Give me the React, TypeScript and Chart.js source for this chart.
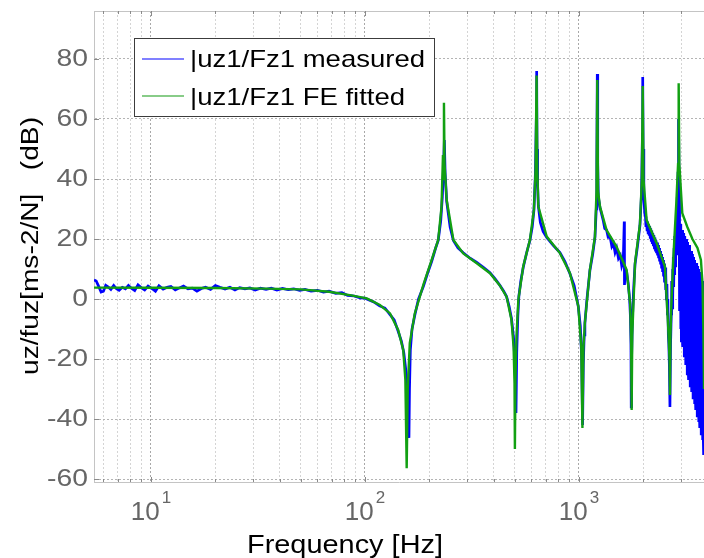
import React, { useEffect, useRef } from 'react';
import { Chart, registerables } from 'chart.js';

Chart.register(...registerables);

// ---------- axis ranges & ticks ----------
const X_MIN = 5.42;
const X_MAX = 3840;
const Y_MIN = -61;
const Y_MAX = 96;
const yTickValues = [-60, -40, -20, 0, 20, 40, 60, 80];
const xGridValues = [6, 7, 8, 9, 10, 20, 30, 40, 50, 60, 70, 80, 90, 100, 200, 300, 400, 500, 600, 700, 800, 900, 1000, 2000, 3000];
const xLabelExponents = [1, 2, 3];
const seriesNames = ['|uz1/Fz1 measured', '|uz1/Fz1 FE fitted'];
const xTitle = 'Frequency [Hz]';
const yTitle = 'uz/fuz[ms-2/N]   (dB)';

// ---------- measured (blue) [Hz, dB] ----------
const measuredLow: [number, number][] = [
  [5.42, 6.3], [5.55, 6.0], [5.7, 4.2], [5.85, 2.3], [6.0, 2.6], [6.15, 4.6], [6.3, 4.1], [6.5, 3.2], [6.7, 4.5],
  [6.9, 3.4], [7.1, 2.9], [7.35, 3.9], [7.6, 3.4], [7.85, 4.5], [8.1, 3.6], [8.4, 2.8], [8.7, 4.7], [9.0, 3.8],
  [9.35, 3.0], [9.7, 4.3], [10.1, 3.5], [10.5, 2.6], [10.9, 4.4], [11.4, 3.3], [11.9, 3.9], [12.4, 4.2], [13.0, 3.0],
  [13.6, 3.7], [14.2, 4.3], [14.9, 3.4], [15.6, 3.6], [16.4, 2.6], [17.2, 3.5], [18.0, 3.9], [19.0, 3.2], [20.0, 4.5],
  [21.0, 3.9], [22.2, 3.3], [23.4, 3.9], [24.7, 3.0], [26.0, 3.8], [27.5, 3.4], [29.0, 3.7], [30.7, 3.0], [32.5, 3.6],
  [34.5, 3.2], [36.5, 3.6], [38.8, 3.0], [41.2, 3.5], [43.8, 3.1], [46.5, 3.4], [49.5, 2.9], [52.5, 3.2], [56, 2.6],
  [60, 2.9], [64, 2.3], [68, 2.6], [73, 1.9], [78, 2.1], [83, 1.2], [89, 1.0], [95, 0.4], [100, 0.3],
];

const measuredMid: [number, number][] = [
  [102, 0.0], [110, -1.0], [117, -2.3], [124, -3.0], [131, -5.2], [137, -7.0], [143, -10.8], [148, -14], [152, -18],
  [156, -25], [158.5, -32], [160.6, -46.3], [161.5, -30], [163, -17], [166, -10], [171, -5.4], [178, 0], [187.6, 4.2],
  [196, 8.5], [205, 12.5], [214, 17], [220, 19.5], [226, 26], [230, 34], [233, 44], [235, 53], [237, 42], [241, 32.5],
  [250, 24], [259, 19.5], [272, 17], [288, 15.4], [310, 13.6], [333, 12.2], [360, 10.4], [384, 8.8], [405, 6.8],
  [427, 4.6], [445, 2.6], [459, 0.8], [472, -2.5], [484, -6.5], [495, -13], [503, -22], [508, -38], [512, -18],
  [518, -6], [524, 1], [535, 6], [549, 10.5], [570, 15.5], [590, 19.5], [605, 24], [616, 29.5], [626, 42], [632, 60],
  [634.5, 76], [637, 50], [641, 38], [646, 31], [660, 25.5], [680, 22.5], [707, 20.5], [760, 17.8], [815, 15.5],
  [860, 12.5], [907, 8.5], [950, 4.5], [993, -2.5], [1015, -9], [1030, -20], [1040, -42], [1048, -22], [1058, -12],
  [1066, -8], [1090, 0], [1125, 9.5], [1160, 15], [1188, 20.5], [1205, 30], [1212, 45], [1218, 75], [1224, 45],
  [1232, 34], [1254, 30.5], [1300, 26], [1320, 23.5], [1346, 23], [1370, 20.5], [1400, 20.5], [1425, 17.5],
  [1450, 18.5], [1475, 15.5], [1500, 17], [1530, 13.5], [1560, 14.5], [1585, 11], [1610, 12.5], [1628, 25.8],
  [1632, 4.7], [1650, 10], [1670, 9.2], [1700, 5], [1725, 0], [1740, -6], [1750, -15], [1755, -36], [1762, -20],
  [1775, -8], [1800, 3], [1828, 11.5], [1880, 18], [1928, 24.5], [1960, 35], [1980, 55], [1986, 74], [1995, 50],
  [2010, 34], [2030, 28.5],
];

const measuredHigh: [number, number][] = [
  [2045, 27.5], [2057, 24], [2069, 26.5], [2081, 23], [2093, 25.8], [2105, 22], [2117, 25], [2129, 21.5], [2141, 24.3],
  [2153, 20.5], [2165, 23.6], [2177, 19.5], [2189, 22.8], [2201, 18.8], [2213, 22], [2226, 18], [2239, 21.3],
  [2252, 17], [2265, 20.5], [2278, 16.3], [2291, 19.6], [2304, 15.3], [2317, 18.8], [2330, 14.5], [2343, 18],
  [2356, 13.6], [2369, 17], [2382, 12.5], [2395, 16], [2408, 11.5], [2421, 15], [2434, 10.2], [2447, 14], [2460, 9],
  [2473, 13], [2486, 7.5], [2499, 11.8], [2512, 5.5], [2525, 10.5], [2538, 3], [2551, 8.5], [2564, 0], [2577, 5],
  [2590, -5], [2603, 0], [2616, -12], [2630, -15], [2645, -22], [2662, -36], [2680, -15], [2700, -5], [2712, 6],
  [2724, -3], [2736, 10], [2748, 0], [2760, 14], [2772, 4], [2784, 17], [2796, 8], [2808, 21], [2820, 11], [2832, 25],
  [2844, 15], [2856, 29], [2868, 19], [2880, 34], [2892, 24], [2904, 42], [2914, 50], [2924, 60], [2935, 40],
  [2944, 30], [2950, 26], [2962, -4], [2974, 25], [2986, -10], [2998, 24], [3010, -14], [3022, 23], [3034, -8],
  [3046, 23], [3058, -16], [3070, 22], [3082, -12], [3094, 22], [3106, -19], [3118, 21], [3130, -15], [3142, 20],
  [3155, -22], [3168, 20], [3181, -18], [3194, 19], [3207, -25], [3220, 19], [3233, -20], [3246, 18], [3259, -27],
  [3272, 18], [3285, -22], [3298, 17], [3311, -29], [3324, 16], [3337, -24], [3350, 16], [3363, -31], [3376, 15],
  [3389, -26], [3402, 15], [3415, -33], [3428, 14], [3441, -28], [3454, 13], [3467, -35], [3480, 13], [3493, -30],
  [3506, 12], [3519, -37], [3532, 12], [3545, -32], [3558, 11], [3571, -39], [3584, 11], [3597, -34], [3610, 10],
  [3623, -41], [3636, 10], [3649, -36], [3662, 9], [3675, -43], [3688, 9], [3701, -38], [3714, 8], [3727, -45],
  [3740, 7], [3753, -40], [3766, 6], [3779, -47], [3792, 5], [3805, -44], [3818, 4], [3831, -52], [3840, -50],
];

// ---------- FE fitted (green) [Hz, dB] ----------
const fitted: [number, number][] = [
  [5.42, 3.8], [10, 3.75], [20, 3.65], [35, 3.45], [50, 3.2], [68, 2.4], [85, 1.3], [102, 0.2], [117.5, -2],
  [131, -4.8], [143, -10.3], [151, -17], [154.5, -27], [156.7, -56.4], [158.5, -30], [162, -14.7], [171, -4.8],
  [187.6, 4.8], [205, 13], [220, 19.7], [228, 30.8], [231.5, 48], [232.5, 40], [234, 65.4], [235.5, 45], [241, 33],
  [259, 19.7], [288, 15.2], [333, 11.9], [384, 8.6], [427, 4.5], [459, 0.8], [484, -7], [495, -16], [500, -28],
  [502, -50], [505, -27], [511, -12], [521, -0.3], [549, 10.8], [590, 19.7], [616, 29.7], [627, 43], [634, 74.5],
  [639, 43], [646, 30.8], [707, 20.8], [815, 15.3], [907, 8.7], [993, -2.4], [1025, -16], [1038, -43], [1050, -16],
  [1066, -8], [1125, 9.7], [1188, 20.8], [1208, 36], [1218, 73], [1228, 36], [1254, 30.8], [1346, 23], [1500, 17.4],
  [1670, 9.7], [1735, -1.6], [1753, -15], [1763, -37], [1775, -12], [1828, 12], [1928, 25], [1968, 40], [1986, 71],
  [2003, 40], [2071, 26.3], [2306, 18.6], [2522, 10.8], [2610, -9], [2650, -20], [2662, -32], [2678, -12],
  [2700, -3], [2762, 14], [2850, 32], [2905, 45], [2924, 71.9], [2945, 45], [3040, 28.6], [3210, 24], [3390, 20],
  [3580, 17], [3715, 13], [3780, 5], [3815, -10], [3840, -30],
];

// ---------- styles ----------
const BLUE = '#0000ff';
const GREEN = '#12a012';
const LEGEND_BLUE = '#8080ff';
const LEGEND_GREEN = '#88cc88';
const FONT = '"Liberation Sans", Arial, Helvetica, sans-serif';

const isMajor = (v: number) => Math.abs(Math.log10(v) - Math.round(Math.log10(v))) < 1e-9;

function drawStretched(
  ctx: CanvasRenderingContext2D, text: string, x: number, y: number,
  font: string, color: string, align: CanvasTextAlign, stretch: number,
  baseline: CanvasTextBaseline = 'alphabetic', rotate = 0,
) {
  ctx.save();
  ctx.font = font;
  ctx.fillStyle = color;
  ctx.textAlign = align;
  ctx.textBaseline = baseline;
  ctx.translate(x, y);
  if (rotate) ctx.rotate(rotate);
  ctx.scale(stretch, 1);
  ctx.fillText(text, 0, 0);
  ctx.restore();
}

const decor = {
  id: 'decor',
  afterDatasetsDraw(chart: any) {
    const { ctx, chartArea: a, scales } = chart;
    const x = scales.x;
    const y = scales.y;
    ctx.save();
    ctx.lineWidth = 1;
    // top frame line
    ctx.strokeStyle = '#c4c4c4';
    ctx.beginPath();
    ctx.moveTo(a.left, Math.round(a.top) + 0.5);
    ctx.lineTo(a.right, Math.round(a.top) + 0.5);
    ctx.stroke();
    // tick marks (inward)
    ctx.strokeStyle = '#8a8a8a';
    ctx.beginPath();
    for (const v of xGridValues) {
      const px = Math.round(x.getPixelForValue(v)) + 0.5;
      const len = isMajor(v) ? 5 : 3;
      ctx.moveTo(px, a.bottom);
      ctx.lineTo(px, a.bottom - len);
      ctx.moveTo(px, a.top);
      ctx.lineTo(px, a.top + len);
    }
    for (const v of yTickValues) {
      const py = Math.round(y.getPixelForValue(v)) + 0.5;
      ctx.moveTo(a.left, py);
      ctx.lineTo(a.left + 5, py);
    }
    ctx.stroke();
    ctx.restore();
  },
  afterDraw(chart: any) {
    const { ctx, chartArea: a, scales } = chart;
    const x = scales.x;
    const y = scales.y;

    // y tick labels
    const yFont = `24px ${FONT}`;
    for (const v of yTickValues) {
      drawStretched(ctx, String(v), a.left - 6, y.getPixelForValue(v), yFont, '#666666', 'right', 1.18, 'middle');
    }

    // x tick labels 10^k
    const baseFont = `26px ${FONT}`;
    const expFont = `17px ${FONT}`;
    for (const k of xLabelExponents) {
      const px = x.getPixelForValue(Math.pow(10, k));
      ctx.save();
      ctx.font = baseFont;
      const wBase = ctx.measureText('10').width;
      ctx.font = expFont;
      const wExp = ctx.measureText(String(k)).width;
      ctx.restore();
      const total = wBase + 2 + wExp;
      const start = px - total / 2;
      drawStretched(ctx, '10', start, 520, baseFont, '#666666', 'left', 1);
      drawStretched(ctx, String(k), start + wBase + 2, 503, expFont, '#666666', 'left', 1);
    }

    // x title
    ctx.save();
    ctx.font = `25px ${FONT}`;
    const wx = ctx.measureText(xTitle).width;
    ctx.restore();
    drawStretched(ctx, xTitle, 345, 553, `25px ${FONT}`, '#000000', 'center', 196 / wx);

    // y title (rotated)
    ctx.save();
    ctx.font = `23px ${FONT}`;
    const wy = ctx.measureText(yTitle).width;
    ctx.restore();
    drawStretched(ctx, yTitle, 37.5, 246, `23px ${FONT}`, '#000000', 'center', 258 / wy, 'alphabetic', -Math.PI / 2);

    // legend
    ctx.save();
    ctx.fillStyle = '#ffffff';
    ctx.strokeStyle = '#3c3c3c';
    ctx.lineWidth = 1;
    ctx.fillRect(134.5, 38.5, 300, 78);
    ctx.strokeRect(134.5, 38.5, 300, 78);
    ctx.lineWidth = 2;
    ctx.strokeStyle = LEGEND_BLUE;
    ctx.beginPath();
    ctx.moveTo(142, 59);
    ctx.lineTo(184, 59);
    ctx.stroke();
    ctx.strokeStyle = LEGEND_GREEN;
    ctx.beginPath();
    ctx.moveTo(142, 96);
    ctx.lineTo(184, 96);
    ctx.stroke();
    ctx.font = `24px ${FONT}`;
    const wl = ctx.measureText(seriesNames[0]).width;
    ctx.restore();
    const ls = 235 / wl;
    drawStretched(ctx, seriesNames[0], 190, 67, `24px ${FONT}`, '#000000', 'left', ls);
    drawStretched(ctx, seriesNames[1], 190, 105, `24px ${FONT}`, '#000000', 'left', ls);
  },
};

const toXY = (arr: [number, number][]) => arr.map(([f, d]) => ({ x: f, y: d }));

export default function App() {
  const ref = useRef<HTMLCanvasElement>(null);

  useEffect(() => {
    const canvas = ref.current;
    if (!canvas) return;
    const chart = new Chart(canvas, {
      type: 'line',
      data: {
        datasets: [
          {
            label: seriesNames[1],
            data: toXY(fitted),
            borderColor: GREEN,
            backgroundColor: GREEN,
            borderWidth: 2.4,
            pointRadius: 0,
            tension: 0,
            fill: false,
            order: 0,
          },
          {
            label: seriesNames[0],
            data: toXY([...measuredLow, ...measuredMid, ...measuredHigh]),
            borderColor: BLUE,
            backgroundColor: BLUE,
            borderWidth: 2.7,
            pointRadius: 0,
            tension: 0,
            fill: false,
            order: 1,
          },
        ],
      },
      options: {
        animation: false,
        responsive: false,
        devicePixelRatio: 1,
        events: [],
        layout: { padding: { left: 94, top: 11, right: 0, bottom: 76 }, autoPadding: false },
        plugins: { legend: { display: false }, tooltip: { enabled: false }, title: { display: false } },
        scales: {
          x: {
            type: 'logarithmic',
            min: X_MIN,
            max: X_MAX,
            afterBuildTicks: (s: any) => {
              s.ticks = xGridValues.map((v) => ({ value: v }));
            },
            ticks: { display: false },
            grid: {
              drawTicks: false,
              lineWidth: 1,
              color: (c: any) => (c.tick && isMajor(c.tick.value) ? '#a8a8a8' : '#d4d4d4'),
            },
            border: { display: true, color: '#c4c4c4', width: 1, dash: [2, 2] },
          },
          y: {
            type: 'linear',
            min: Y_MIN,
            max: Y_MAX,
            afterBuildTicks: (s: any) => {
              s.ticks = yTickValues.map((v) => ({ value: v }));
            },
            ticks: { display: false },
            grid: { drawTicks: false, lineWidth: 1, color: '#b4b4b4' },
            border: { display: true, color: '#c4c4c4', width: 1, dash: [2, 2] },
          },
        },
      } as any,
      plugins: [decor],
    });
    return () => chart.destroy();
  }, []);

  return (
    <div style={{ position: 'absolute', left: 0, top: 0, width: 704, height: 558, background: '#ffffff' }}>
      <canvas ref={ref} width={704} height={558} style={{ display: 'block', width: 704, height: 558 }} />
    </div>
  );
}
